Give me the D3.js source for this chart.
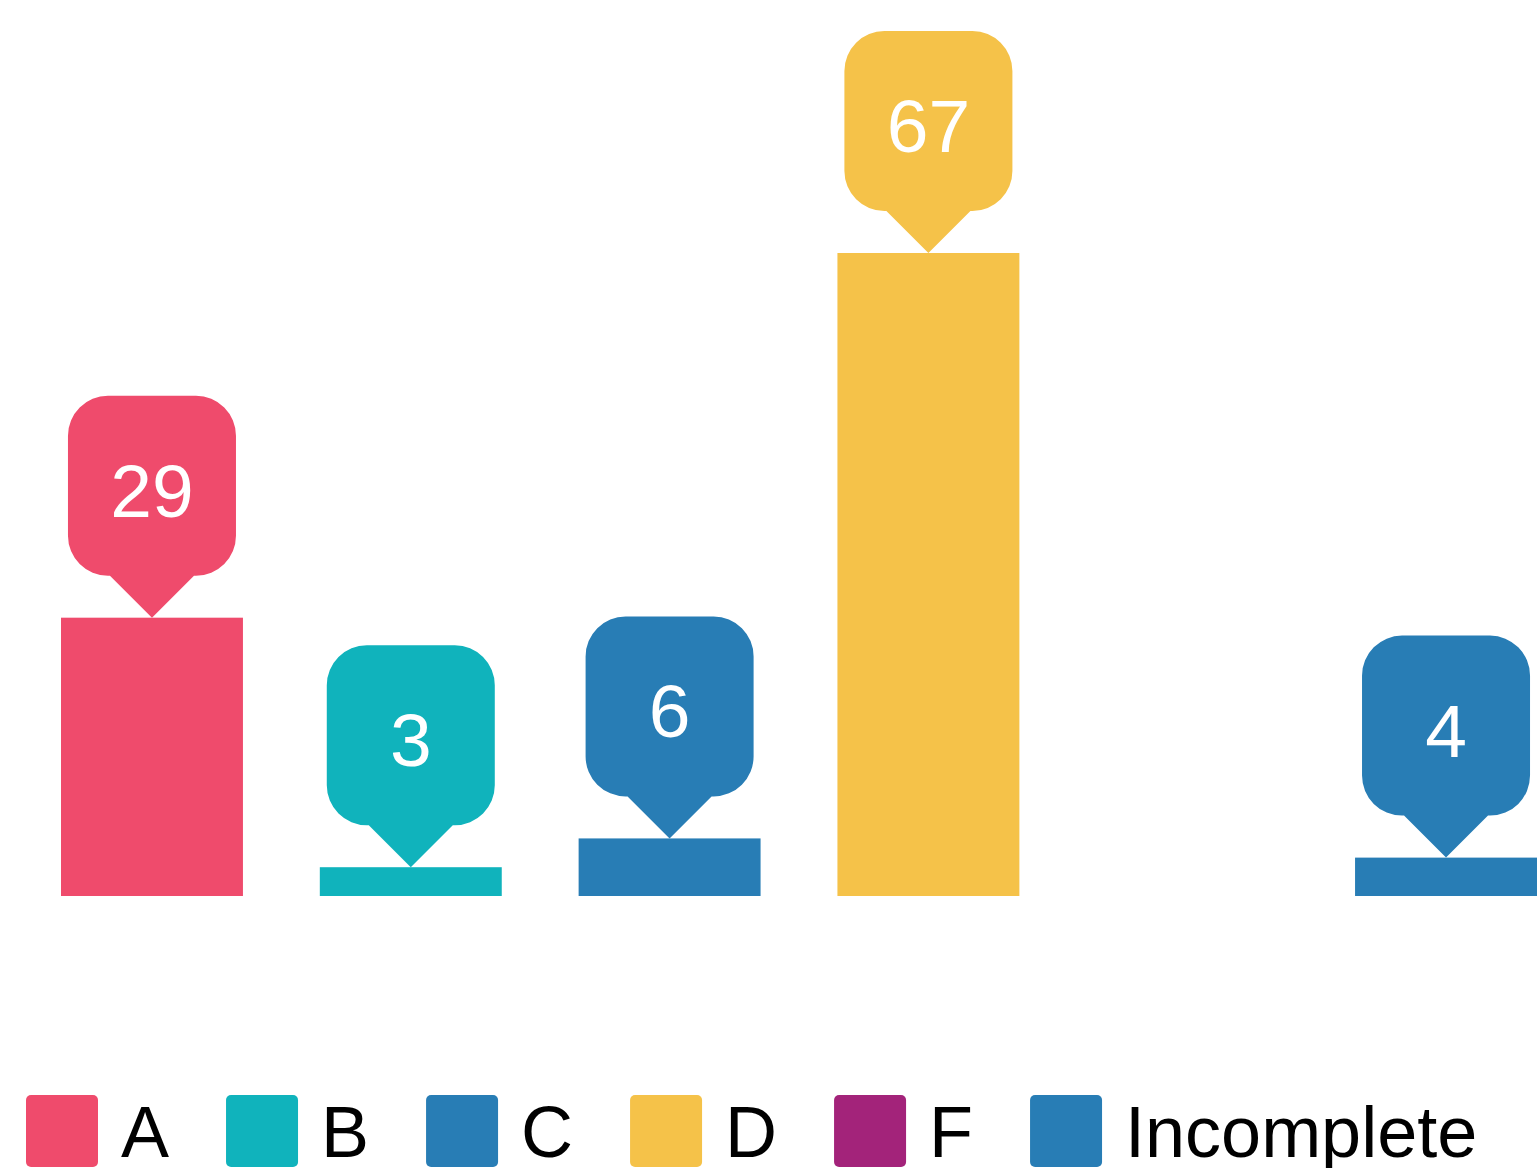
<!DOCTYPE html>
<html>
<head>
<meta charset="utf-8">
<script src="https://cdn.jsdelivr.net/npm/d3@7"></script>
<style>
html,body{margin:0;padding:0;background:#fff;}
svg{display:block;font-family:"Liberation Sans",Arial,sans-serif;}
</style>
</head>
<body>
<svg id="chart" width="1537" height="1168"></svg>
<script>
const categories = ["A", "B", "C", "D", "F", "Incomplete"];
const values = [29, 3, 6, 67, 0, 4];
const colors = ["#ef4b6c", "#10b3bc", "#287db5", "#f5c249", "#a3237a", "#287db5"];

const svg = d3.select("#chart");
const W = 1537, H = 1168;

const x = d3.scaleBand().domain(categories).range([61, 1537]).paddingInner(0.297).paddingOuter(0);
const y = d3.scaleLinear().domain([0, 67]).range([896, 253]);
const color = d3.scaleOrdinal().domain(categories).range(colors);

const data = categories.map((c, i) => ({ cat: c, val: values[i] }));

// bars
svg.append("g").selectAll("rect").data(data.filter(d => d.val > 0)).join("rect")
  .attr("x", d => x(d.cat))
  .attr("y", d => y(d.val))
  .attr("width", x.bandwidth())
  .attr("height", d => y(0) - y(d.val))
  .attr("fill", d => color(d.cat));

// callout labels
const boxW = 168, boxH = 180, r = 40, triH = 42, triHalf = 42;
function calloutPath(cx, tipY) {
  const bottom = tipY - triH, top = bottom - boxH;
  const left = cx - boxW / 2, right = cx + boxW / 2;
  const p = d3.path();
  p.moveTo(left + r, top);
  p.lineTo(right - r, top);
  p.arcTo(right, top, right, top + r, r);
  p.lineTo(right, bottom - r);
  p.arcTo(right, bottom, right - r, bottom, r);
  p.lineTo(cx + triHalf, bottom);
  p.lineTo(cx, tipY);
  p.lineTo(cx - triHalf, bottom);
  p.lineTo(left + r, bottom);
  p.arcTo(left, bottom, left, bottom - r, r);
  p.lineTo(left, top + r);
  p.arcTo(left, top, left + r, top, r);
  p.closePath();
  return p.toString();
}
const labels = svg.append("g").selectAll("g").data(data.filter(d => d.val > 0)).join("g");
labels.append("path")
  .attr("d", d => calloutPath(x(d.cat) + x.bandwidth() / 2, y(d.val)))
  .attr("fill", d => color(d.cat));
labels.append("text")
  .attr("x", d => x(d.cat) + x.bandwidth() / 2)
  .attr("y", d => y(d.val) - triH - boxH / 2 + 31)
  .attr("text-anchor", "middle")
  .attr("font-size", 75)
  .attr("fill", "#fff")
  .text(d => d.val);

// legend
const leg = svg.append("g");
let lx = 26;
const sq = 72, ly = 1095;
categories.forEach((c, i) => {
  const g = leg.append("g");
  g.append("rect").attr("x", lx).attr("y", ly).attr("width", sq).attr("height", sq)
    .attr("rx", 5).attr("ry", 5).attr("fill", color(c));
  const t = g.append("text").attr("x", lx + sq + 23).attr("y", ly + sq / 2 + 26)
    .attr("font-size", 72).attr("fill", "#000").text(c);
  const tw = t.node().getComputedTextLength();
  lx = lx + sq + 23 + tw + 57;
});
</script>
</body>
</html>
